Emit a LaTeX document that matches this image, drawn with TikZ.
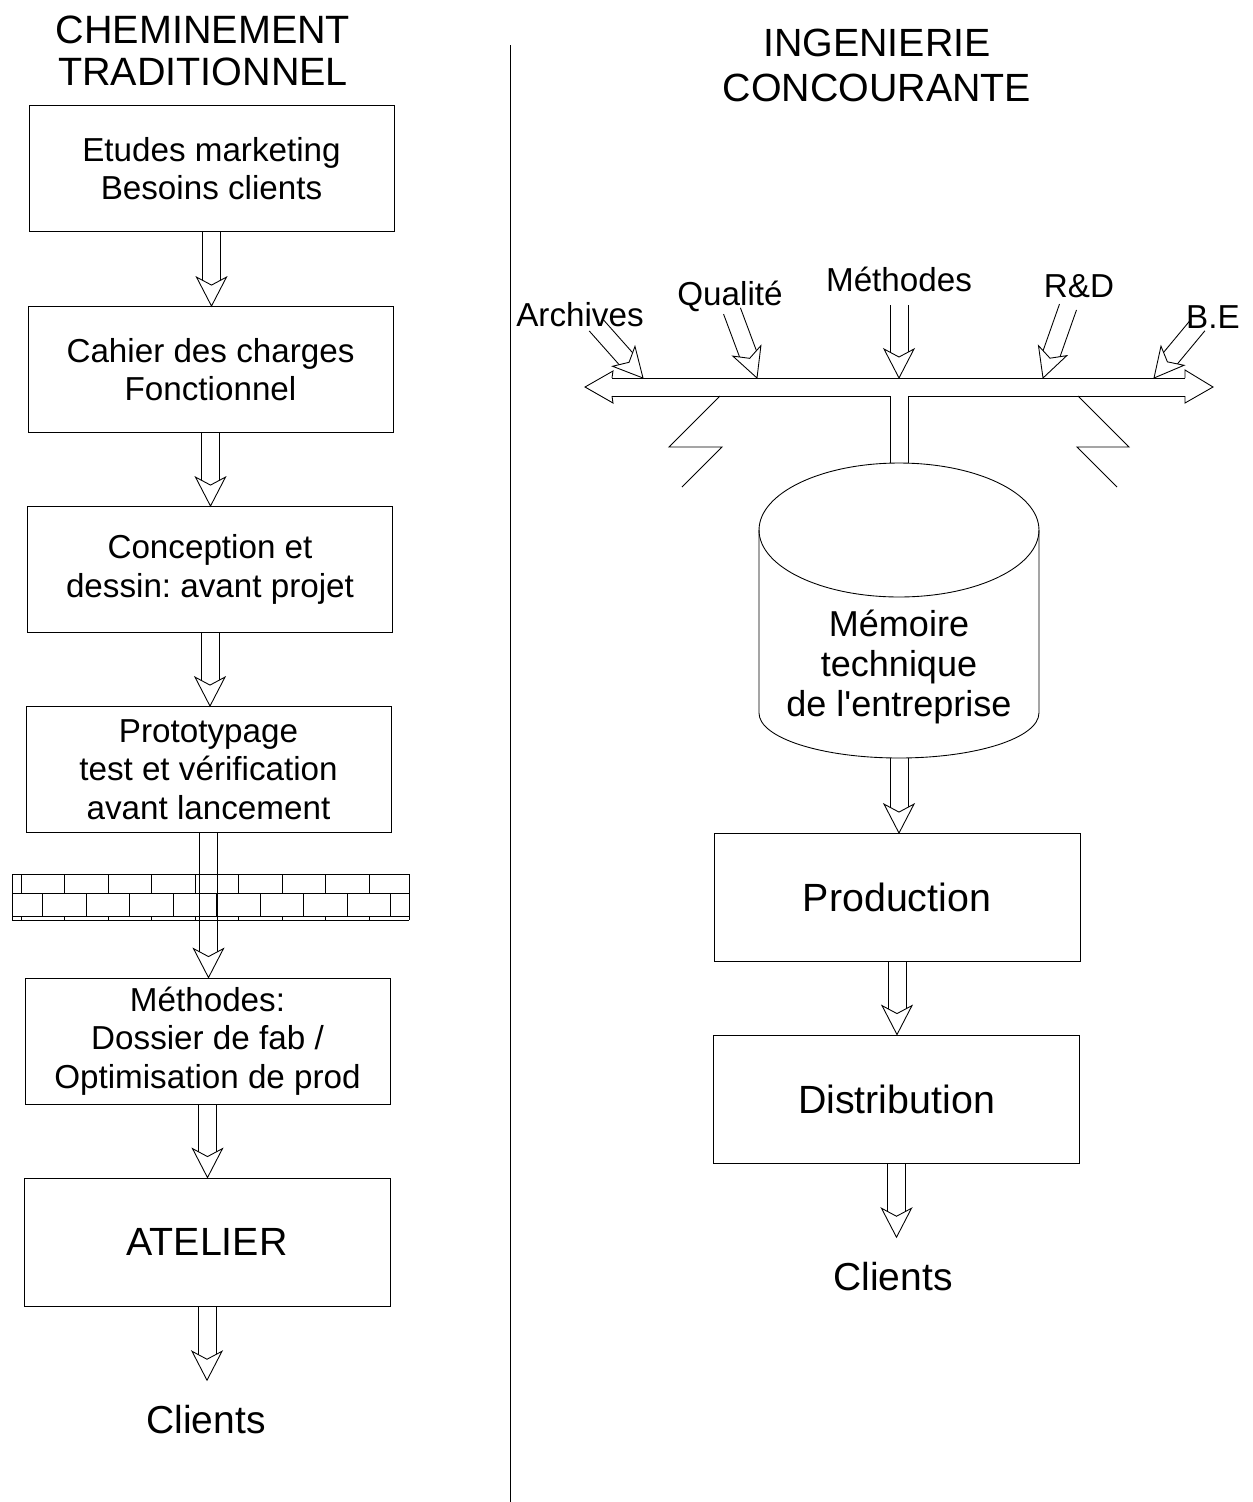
\documentclass[tikz,border=0pt]{standalone}
\usepackage{fontspec}
\setmainfont{Liberation Sans}
\newfontfamily\droit{Liberation Sans}
\frenchspacing
\usetikzlibrary{calc}

\tikzset{
  etape/.style={draw, minimum width=7.3cm, minimum height=2.52cm, align=center, inner sep=0pt,
    font=\fontsize{18.9}{21.9}\selectfont},
  grandbloc/.style={etape, minimum width=7.32cm, minimum height=2.56cm,
    font=\fontsize{22.4}{26}\selectfont},
  titre/.style={align=center, inner sep=0pt, font=\fontsize{22.5}{23.9}\selectfont},
  etiquette/.style={anchor=base, inner sep=0pt, font=\fontsize{18.9}{21}\selectfont},
  fin/.style={inner sep=0.5cm, font=\fontsize{22.2}{26}\selectfont},
}

% fleche creuse de #1 vers #2
\newcommand{\flechecreuse}[2]{%
  \coordinate (fc-a) at (#1);
  \coordinate (fc-b) at (#2);
  \coordinate (fc-w) at ($(fc-b)!0.58cm!(fc-a)$);
  \coordinate (fc-n) at ($(fc-b)!0.42cm!(fc-a)$);
  \draw ($(fc-a)!0.18cm!90:(fc-b)$) -- ($(fc-n)!0.18cm!90:(fc-b)$)
        ($(fc-a)!0.18cm!-90:(fc-b)$) -- ($(fc-n)!0.18cm!-90:(fc-b)$);
  \draw[fill=white] ($(fc-w)!0.3cm!90:(fc-b)$) -- (fc-b) -- ($(fc-w)!0.3cm!-90:(fc-b)$) -- (fc-n) -- cycle;
}

\begin{document}
\begin{tikzpicture}[x=0.02cm, y=-0.02cm, line width=0.5pt]
    \useasboundingbox (0,0) rectangle (1253,1502);

    % Titres
    \node[titre] (titreG) at (203,51) {CHEMINEMENT\\TRADITIONNEL};
    \node[titre, font=\fontsize{22.4}{25.6}\selectfont] (titreD) at (877,65) {INGENIERIE\\CONCOURANTE};

    % Separation
    \draw (510,45) -- (510,1502);

    % Cheminement traditionnel
    \node[etape] (etudes) at (211.5,168.5) {Etudes marketing\\Besoins clients};
    \node[etape] (cahier) at (210.5,369.5) {Cahier des charges\\Fonctionnel};
    \node[etape] (concep) at (210,569.5) {Conception et\\dessin: avant projet};
    \node[etape] (proto) at (208.5,769.5) {Prototypage\\test et vérification\\avant lancement};
    \node[etape] (methG) at (207.5,1041) {Méthodes:\\Dossier de fab /\\Optimisation de prod};
    \node[grandbloc] (atelier) at (207,1242) {ATELIER};
    \node[fin] (clientsG) at (206,1420) {Clients};

    % Mur
    \draw (12,874) -- (409,874) (12,893) -- (409,893) (12,916) -- (409,916) (12,920) -- (409,920);
    \draw (12,874) -- (12,920) (409,874) -- (409,920);
    \foreach \i in {0,...,8} {
        \draw ({21+43.5*\i},874) -- ++(0,19);
        \draw ({21+43.5*\i},916) -- ++(0,4);
        \draw ({42.5+43.5*\i},893) -- ++(0,23);
    }

    \flechecreuse{etudes.south}{etudes.south |- cahier.north}
    \flechecreuse{cahier.south}{cahier.south |- concep.north}
    \flechecreuse{concep.south}{concep.south |- proto.north}
    \flechecreuse{proto.south}{proto.south |- methG.north}
    \flechecreuse{methG.south}{methG.south |- atelier.north}
    \flechecreuse{atelier.south}{atelier.south |- clientsG.north}

    % Ingenierie concourante
    \node[etiquette] (archives) at (580,326) {Archives};
    \node[etiquette] (qualite) at (730,305) {Qualité};
    \node[etiquette] (methD) at (899,291) {Méthodes};
    \node[etiquette] (rd) at (1079,297) {R\&D};
    \node[etiquette] (be) at (1213,328) {B.E};

    % Bus
    \draw (612,378) -- (1185,378);
    \draw (612,396) -- (890,396) (908,396) -- (1185,396);
    \draw (612,378) -- (613,371) -- (585,387) -- (613,403) -- (612,396);
    \draw (1185,378) -- (1185,370) -- (1213,387) -- (1185,403) -- (1185,396);
    \draw (890,396) -- (890,463) (908,396) -- (908,463);
    \draw (720,396) -- (669,447) -- (722,447) -- (682,487);
    \draw (1078,396) -- (1129,447) -- (1077,447) -- (1117,487);

    \coordinate (e-arch) at (596,325);  \coordinate (s-arch) at (643,378);
    \coordinate (e-qual) at (732,311);  \coordinate (s-qual) at (757,378);
    \coordinate (e-meth) at (899,305);  \coordinate (s-meth) at (899,378);
    \coordinate (e-rd) at (1068,307);   \coordinate (s-rd) at (1043,378);
    \coordinate (e-be) at (1198,325);   \coordinate (s-be) at (1154,378);
    \flechecreuse{e-arch}{s-arch}
    \flechecreuse{e-qual}{s-qual}
    \flechecreuse{e-meth}{s-meth}
    \flechecreuse{e-rd}{s-rd}
    \flechecreuse{e-be}{s-be}

    % Memoire
    \draw (899,530) ellipse [x radius=2.8cm, y radius=1.34cm];
    \draw (759,530) -- (759,713) arc[start angle=180, end angle=360, x radius=2.8cm, y radius=0.9cm] -- (1039,530);
    \node[align=center, inner sep=0pt, font=\fontsize{20.5}{23}\selectfont] (memoire) at (899,667)
        {Mémoire\\technique\\de l{\droit '}entreprise};
    \coordinate (memoire-bas) at (899,758);

    \node[grandbloc] (prod) at (897,897.5) {Production};
    \node[grandbloc] (distrib) at (896.5,1099) {Distribution};
    \node[fin] (clientsD) at (893,1277) {Clients};

    \flechecreuse{memoire-bas}{memoire-bas |- prod.north}
    \flechecreuse{prod.south}{prod.south |- distrib.north}
    \flechecreuse{distrib.south}{distrib.south |- clientsD.north}
\end{tikzpicture}
\end{document}
